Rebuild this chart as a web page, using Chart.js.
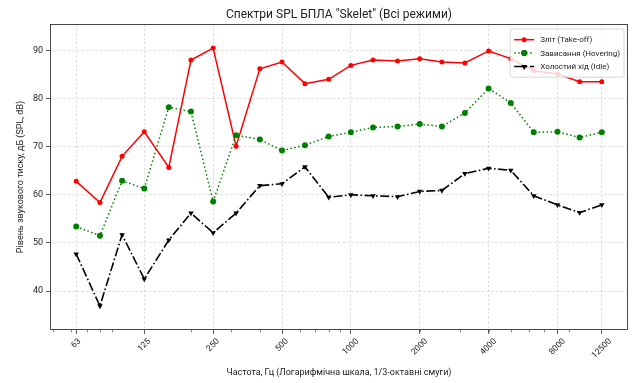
<!DOCTYPE html>
<html>
<head>
<meta charset="utf-8">
<script src="https://cdn.jsdelivr.net/npm/chart.js@4.4.1/dist/chart.umd.min.js"></script>
<style>
  html, body { margin: 0; padding: 0; background: #fff; }
  #wrap { width: 635px; height: 383px; }
</style>
</head>
<body>
<div id="wrap"><canvas id="spl" width="635" height="383"></canvas></div>
<script>
// 1/3-octave band centre frequencies, Hz
const freqs = [63, 80, 100, 125, 160, 200, 250, 315, 400, 500, 630, 800,
               1000, 1250, 1600, 2000, 2500, 3150, 4000, 5000, 6300, 8000, 10000, 12500];

// SPL per band, dB
const takeoff  = [62.8, 58.4, 68.0, 73.1, 65.7, 88.0, 90.5, 70.1, 86.2, 87.6, 83.1, 84.0,
                  86.9, 88.0, 87.8, 88.3, 87.6, 87.4, 89.9, 88.3, 85.8, 85.1, 83.5, 83.5];
const hovering = [53.4, 51.5, 62.9, 61.3, 78.2, 77.3, 58.6, 72.4, 71.5, 69.2, 70.3, 72.1,
                  73.0, 74.0, 74.2, 74.7, 74.2, 77.0, 82.1, 79.1, 73.0, 73.1, 71.9, 73.0];
const idle     = [47.7, 36.9, 51.7, 42.5, 50.6, 56.2, 52.1, 56.2, 61.9, 62.3, 65.8, 59.5,
                  60.0, 59.8, 59.6, 60.7, 60.9, 64.4, 65.5, 65.1, 59.8, 57.9, 56.3, 57.9];

const freqTicks  = [63, 125, 250, 500, 1000, 2000, 4000, 8000, 12500];
const minorTicks = [50, 60, 70, 80, 90, 200, 300, 400, 500, 600, 700, 800, 900,
                    2000, 3000, 4000, 5000, 6000, 7000, 8000, 9000];
const levelTicks = [40, 50, 60, 70, 80, 90];

const TITLE = 'Спектри SPL БПЛА "Skelet" (Всі режими)';
const FONT = 'Roboto, "DejaVu Sans", sans-serif';
const INK = '#222';

const toPoints = ys => freqs.map((f, i) => ({ x: f, y: ys[i] }));

// frame, minor ticks, rotated frequency labels, title and the legend box
const decorations = {
    id: 'decorations',
    afterDatasetsDraw(chart) {
        const { ctx, chartArea: a, scales } = chart;
        const xs = scales.x;
        ctx.save();

        // axes frame
        ctx.strokeStyle = '#333';
        ctx.lineWidth = 0.9;
        ctx.strokeRect(a.left + 0.5, a.top + 0.5, a.right - a.left - 1, a.bottom - a.top - 1);

        // minor ticks on the log axis
        ctx.lineWidth = 0.6;
        minorTicks.forEach(v => {
            const px = Math.round(xs.getPixelForValue(v)) + 0.5;
            if (px < a.left || px > a.right) return;
            ctx.beginPath();
            ctx.moveTo(px, a.bottom);
            ctx.lineTo(px, a.bottom + 2.2);
            ctx.stroke();
        });

        // frequency labels, rotated 45deg and centred under their tick
        ctx.fillStyle = INK;
        ctx.font = `8.5px ${FONT}`;
        ctx.textAlign = 'center';
        ctx.textBaseline = 'middle';
        freqTicks.forEach(v => {
            const px = xs.getPixelForValue(v);
            const label = String(v);
            const w = ctx.measureText(label).width;
            const d = (w + 8.5) / (2 * Math.SQRT2);
            ctx.save();
            ctx.translate(px, a.bottom + 7 + d);
            ctx.rotate(-Math.PI / 4);
            ctx.fillText(label, 0, 0);
            ctx.restore();
        });

        // title centred over the plot area
        ctx.font = `12px ${FONT}`;
        ctx.fillText(TITLE, (a.left + a.right) / 2, 14.5);

        // legend
        const items = chart.data.datasets;
        ctx.font = `8px ${FONT}`;
        const textW = Math.max(...items.map(d => ctx.measureText(d.label).width));
        const rowH = 13.4, pad = 4, handle = 20, gap = 6;
        const boxW = pad + handle + gap + textW + pad;
        const boxH = rowH * items.length + 2 * pad;
        const bx = a.right - 4 - boxW, by = a.top + 5;
        ctx.beginPath();
        ctx.roundRect(bx, by, boxW, boxH, 2.5);
        ctx.fillStyle = 'rgba(255,255,255,0.82)';
        ctx.fill();
        ctx.strokeStyle = '#d0d0d0';
        ctx.lineWidth = 0.8;
        ctx.stroke();

        items.forEach((d, i) => {
            const cy = by + pad + rowH * (i + 0.5);
            const hx = bx + pad;
            ctx.save();
            ctx.strokeStyle = d.borderColor;
            ctx.lineWidth = d.borderWidth;
            ctx.setLineDash(d.borderDash || []);
            ctx.beginPath();
            ctx.moveTo(hx, cy);
            ctx.lineTo(hx + handle, cy);
            ctx.stroke();
            ctx.restore();
            Chart.helpers.drawPoint(ctx, {
                pointStyle: d.pointStyle,
                rotation: d.pointRotation || 0,
                radius: d.pointRadius,
                borderWidth: 0
            }, hx + handle / 2, cy);
            ctx.fillStyle = d.borderColor;
            ctx.fill();
            ctx.fillStyle = INK;
            ctx.textAlign = 'left';
            ctx.fillText(d.label, hx + handle + gap, cy + 0.5);
        });

        ctx.restore();
    }
};

new Chart(document.getElementById('spl'), {
    type: 'line',
    data: {
        datasets: [
            {
                label: 'Зліт (Take-off)',
                data: toPoints(takeoff),
                borderColor: '#ff0000',
                backgroundColor: '#ff0000',
                borderWidth: 1.5,
                pointStyle: 'circle',
                pointRadius: 2.5,
                pointBorderWidth: 0,
                order: 3
            },
            {
                label: 'Зависання (Hovering)',
                data: toPoints(hovering),
                borderColor: '#008000',
                backgroundColor: '#008000',
                borderWidth: 1.5,
                borderDash: [1.5, 2.5],
                pointStyle: 'circle',
                pointRadius: 3,
                pointBorderWidth: 0,
                order: 2
            },
            {
                label: 'Холостий хід (Idle)',
                data: toPoints(idle),
                borderColor: '#000000',
                backgroundColor: '#000000',
                borderWidth: 1.6,
                borderDash: [9, 2.5, 1.6, 2.5],
                pointStyle: 'triangle',
                pointRotation: 180,
                pointRadius: 3.2,
                pointBorderWidth: 0,
                order: 1
            }
        ]
    },
    options: {
        responsive: false,
        animation: false,
        devicePixelRatio: 1,
        layout: { padding: { top: 24, right: 7, left: 0, bottom: 0 } },
        plugins: {
            legend: { display: false },
            title: { display: false },
            tooltip: { enabled: false }
        },
        scales: {
            x: {
                type: 'logarithmic',
                min: 48.4,
                max: 16270,
                afterBuildTicks: s => { s.ticks = freqTicks.map(v => ({ value: v })); },
                afterFit: s => { s.height = 53; },
                ticks: { display: false },
                grid: { color: 'rgba(0,0,0,0.17)', lineWidth: 0.8, tickLength: 4, tickColor: '#333', tickWidth: 0.8 },
                border: { display: false, dash: [2.5, 2] },
                title: {
                    display: true,
                    text: 'Частота, Гц (Логарифмічна шкала, 1/3-октавні смуги)',
                    color: INK,
                    font: { family: FONT, size: 9 },
                    padding: { top: 0, bottom: 4.6 }
                }
            },
            y: {
                min: 31.9,
                max: 95.5,
                afterBuildTicks: s => { s.ticks = levelTicks.map(v => ({ value: v })); },
                afterFit: s => { s.width = 50; },
                ticks: { color: INK, font: { family: FONT, size: 9 }, padding: 3 },
                grid: { color: 'rgba(0,0,0,0.17)', lineWidth: 0.8, tickLength: 4, tickColor: '#333', tickWidth: 0.8 },
                border: { display: false, dash: [2.5, 2] },
                title: {
                    display: true,
                    text: 'Рівень звукового тиску, дБ (SPL, dB)',
                    color: INK,
                    font: { family: FONT, size: 9 },
                    padding: { top: 15.6, bottom: 0 }
                }
            }
        }
    },
    plugins: [decorations]
});
</script>
</body>
</html>
